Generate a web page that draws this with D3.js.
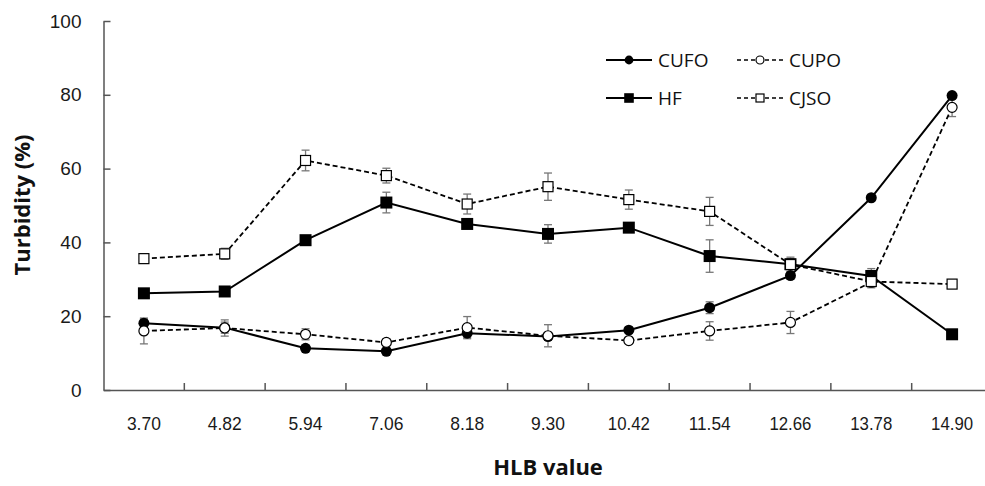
<!DOCTYPE html>
<html>
<head>
<meta charset="utf-8">
<script src="https://cdn.jsdelivr.net/npm/d3@7"></script>
<style>
  body { margin: 0; background: #fff; }
  svg { display: block; font-family: 'Open Sans', sans-serif; }
  .axis path, .axis line { stroke: #555; stroke-width: 1.5; }
  .axis text { fill: #1a1a1a; font-size: 19px; }
  .axis-title { font-weight: bold; font-size: 22px; fill: #111; }
  .legend text { font-size: 19px; fill: #111; }
</style>
</head>
<body>
<div id="container"></div>
<script>
const w = 985;
const h = 486;

// HLB values (categories)
const categories = ['3.70', '4.82', '5.94', '7.06', '8.18', '9.30', '10.42', '11.54', '12.66', '13.78', '14.90'];
const yTicks = [0, 20, 40, 60, 80, 100];

// turbidity (%) and error bars
const cufo    = [18.1, 16.9, 11.3, 10.5, 15.4, 14.5, 16.2, 22.3, 31.0, 52.1, 79.8];
const cufoErr = [1.2, 1.5, 0.8, 0.6, 1.2, 1.0, 0.8, 1.6, 1.0, 0.6, 0.6];
const cupo    = [16.0, 16.8, 15.1, 12.9, 16.9, 14.7, 13.4, 16.0, 18.3, 29.2, 76.6];
const cupoErr = [3.5, 2.2, 1.5, 1.0, 3.0, 3.0, 0.8, 2.5, 3.0, 1.5, 2.5];
const hf      = [26.2, 26.7, 40.6, 50.8, 45.0, 42.3, 44.0, 36.3, 34.1, 30.9, 15.1];
const hfErr   = [1.0, 0.8, 1.2, 2.8, 0.8, 2.5, 0.8, 4.4, 1.5, 2.0, 0.5];
const cjso    = [35.6, 36.9, 62.2, 58.1, 50.4, 55.1, 51.6, 48.4, 34.0, 29.4, 28.7];
const cjsoErr = [0.8, 1.5, 2.8, 2.0, 2.7, 3.7, 2.6, 3.8, 2.0, 1.5, 0.8];

const seriesList = [
  { name: 'CUFO', values: cufo, err: cufoErr, dashed: false, shape: 'circle', filled: true },
  { name: 'CUPO', values: cupo, err: cupoErr, dashed: true,  shape: 'circle', filled: false },
  { name: 'HF',   values: hf,   err: hfErr,   dashed: false, shape: 'square', filled: true },
  { name: 'CJSO', values: cjso, err: cjsoErr, dashed: true,  shape: 'square', filled: false }
];

const svg = d3.select('#container')
              .append('svg')
              .attr('width', w)
              .attr('height', h);

const xScale = d3.scaleBand()
                 .domain(categories)
                 .range([103.5, 992.5]);

const yScale = d3.scaleLinear()
                 .domain([0, 100])
                 .range([390, 21]);

const cx = c => xScale(c) + xScale.bandwidth() / 2;

// Axes
svg.append('g')
   .attr('class', 'axis')
   .attr('transform', 'translate(103.5, 0)')
   .call(d3.axisLeft(yScale).tickValues(yTicks).tickSizeInner(-7).tickSizeOuter(0).tickPadding(22));

const xAxis = svg.append('g')
   .attr('class', 'axis')
   .attr('transform', 'translate(0, 390)')
   .call(d3.axisBottom(xScale).tickSize(0).tickPadding(27));

// narrow tick labels, as in the original
xAxis.selectAll('.tick text')
     .attr('textLength', d => d.length === 4 ? 34 : 42)
     .attr('lengthAdjust', 'spacingAndGlyphs');

// tick marks sit between categories
xAxis.selectAll('.sep')
     .data(categories.slice(1))
     .enter()
     .append('line')
     .attr('class', 'sep')
     .attr('x1', d => xScale(d))
     .attr('x2', d => xScale(d))
     .attr('y1', 0)
     .attr('y2', -7);

// Axis titles
svg.append('text')
   .attr('class', 'axis-title')
   .attr('transform', 'translate(30, 205) rotate(-90)')
   .attr('text-anchor', 'middle')
   .text('Turbidity (%)');

svg.append('text')
   .attr('class', 'axis-title')
   .attr('x', 548)
   .attr('y', 475)
   .attr('text-anchor', 'middle')
   .text('HLB value');

// Error bars
const errG = svg.append('g').attr('class', 'errors');
seriesList.forEach(s => {
  const g = errG.append('g');
  const rows = categories.map((c, i) => ({ c, v: s.values[i], e: s.err[i] }));
  g.selectAll('line.v')
   .data(rows)
   .enter()
   .append('line')
   .attr('x1', d => cx(d.c))
   .attr('x2', d => cx(d.c))
   .attr('y1', d => yScale(d.v - d.e))
   .attr('y2', d => yScale(d.v + d.e))
   .attr('stroke', '#777')
   .attr('stroke-width', 1.3);
  [1, -1].forEach(sign => {
    g.selectAll('line.cap' + sign)
     .data(rows)
     .enter()
     .append('line')
     .attr('x1', d => cx(d.c) - 4)
     .attr('x2', d => cx(d.c) + 4)
     .attr('y1', d => yScale(d.v + sign * d.e))
     .attr('y2', d => yScale(d.v + sign * d.e))
     .attr('stroke', '#777')
     .attr('stroke-width', 1.3);
  });
});

// Lines
const line = d3.line()
               .x((d, i) => cx(categories[i]))
               .y(d => yScale(d));

seriesList.forEach(s => {
  svg.append('path')
     .datum(s.values)
     .attr('d', line)
     .attr('fill', 'none')
     .attr('stroke', '#000')
     .attr('stroke-width', s.dashed ? 1.8 : 2)
     .attr('stroke-dasharray', s.dashed ? '5,3' : null);
});

// Markers
function drawMarker(g, s, px, py, scale) {
  if (s.shape === 'circle') {
    const r = (s.filled ? 5.5 : 5) * scale;
    g.append('circle')
     .attr('cx', px).attr('cy', py).attr('r', r)
     .attr('fill', s.filled ? '#000' : '#fff')
     .attr('stroke', '#000')
     .attr('stroke-width', s.filled ? 0 : 1.2);
  } else {
    const size = (s.filled ? 12 : 10) * scale;
    g.append('rect')
     .attr('x', px - size / 2).attr('y', py - size / 2)
     .attr('width', size).attr('height', size)
     .attr('fill', s.filled ? '#000' : '#fff')
     .attr('stroke', '#000')
     .attr('stroke-width', s.filled ? 0 : 1.2);
  }
}

seriesList.forEach(s => {
  const g = svg.append('g');
  s.values.forEach((v, i) => drawMarker(g, s, cx(categories[i]), yScale(v), 1));
});

// Legend
const legendPos = [
  { x: 606, y: 60 },
  { x: 737, y: 60 },
  { x: 606, y: 98 },
  { x: 737, y: 98 }
];
const legend = svg.append('g').attr('class', 'legend');
seriesList.forEach((s, i) => {
  const p = legendPos[i];
  const g = legend.append('g');
  g.append('line')
   .attr('x1', p.x).attr('x2', p.x + 46)
   .attr('y1', p.y).attr('y2', p.y)
   .attr('stroke', '#000')
   .attr('stroke-width', s.dashed ? 1.6 : 2)
   .attr('stroke-dasharray', s.dashed ? '4,3' : null);
  drawMarker(g, s, p.x + 23, p.y, 0.8);
  g.append('text')
   .attr('x', p.x + 52)
   .attr('y', p.y)
   .attr('dy', '0.35em')
   .text(s.name);
});
</script>
</body>
</html>
